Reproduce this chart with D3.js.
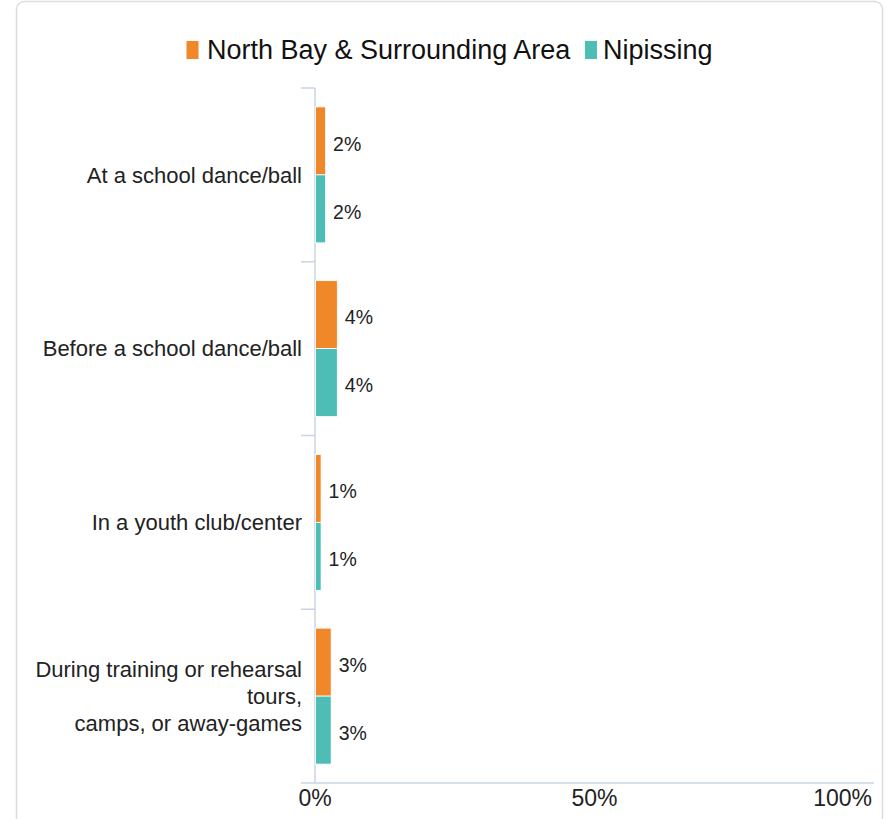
<!DOCTYPE html>
<html><head><meta charset="utf-8">
<script src="https://cdn.jsdelivr.net/npm/d3@7"></script>
<style>body{margin:0;background:#fff;font-family:"Liberation Sans",Arial,sans-serif;}</style>
</head><body>
<svg id="chart" width="889" height="819"></svg>
<script>
const categories = [
  ["At a school dance/ball"],
  ["Before a school dance/ball"],
  ["In a youth club/center"],
  ["During training or rehearsal", "tours,", "camps, or away-games"]
];
const seriesNames = ["North Bay & Surrounding Area", "Nipissing"];
const northBay = [1.8, 3.9, 1.0, 2.8];
const nipissing = [1.8, 3.9, 1.0, 2.8];
const seriesColors = ["#f0882a", "#4dbdb6"];
const xTicks = [0, 50, 100];

(function () {
const svg = d3.select("#chart");
svg.append("rect").attr("x", 16.5).attr("y", 1.5).attr("width", 866).attr("height", 840)
  .attr("rx", 8).attr("fill", "#fff").attr("stroke", "#dcdcdc").attr("stroke-width", 1.5);

const mLeft = 315, mRight = 874, mTop = 88, mBottom = 783;
const x = d3.scaleLinear().domain([0, 100]).range([mLeft, mRight]);
const y = d3.scaleBand().domain(d3.range(categories.length)).range([mTop, mBottom]).paddingInner(0).paddingOuter(0);
const inner = d3.scaleBand().domain([0, 1]).range([0, y.bandwidth()]).paddingInner(0).paddingOuter(0.278);
const data = [northBay, nipissing];
const axisColor = "#c8d5e4";

const ticksY = d3.range(categories.length + 1).map(i => mTop + i * y.bandwidth());
svg.selectAll(".ctick").data(ticksY).enter().append("line")
  .attr("x1", 301).attr("x2", mLeft).attr("y1", d => d).attr("y2", d => d)
  .attr("stroke", axisColor).attr("stroke-width", 1.5);
svg.append("line").attr("x1", mLeft).attr("x2", mLeft).attr("y1", mTop).attr("y2", mBottom)
  .attr("stroke", axisColor).attr("stroke-width", 1.5);
svg.append("line").attr("x1", mLeft).attr("x2", mRight).attr("y1", mBottom).attr("y2", mBottom)
  .attr("stroke", axisColor).attr("stroke-width", 1.5);

data.forEach((vals, s) => {
  svg.selectAll(".bar" + s).data(vals).enter().append("rect")
    .attr("x", x(0) + 0.5)
    .attr("y", (d, i) => y(i) + inner(s))
    .attr("width", d => x(d) - x(0))
    .attr("height", inner.bandwidth())
    .attr("fill", seriesColors[s]).attr("stroke", "#fff").attr("stroke-width", 0.8);
  svg.selectAll(".lbl" + s).data(vals).enter().append("text")
    .attr("x", d => x(d) + 8)
    .attr("y", (d, i) => y(i) + inner(s) + inner.bandwidth() / 2 + 3)
    .attr("dy", "0.35em")
    .attr("font-size", 19.5).attr("fill", "#222")
    .text(d => Math.round(d) + "%");
});

categories.forEach((lines, i) => {
  const cy = y(i) + y.bandwidth() / 2;
  const lh = 27;
  const t = svg.append("text").attr("text-anchor", "end").attr("font-size", 22).attr("fill", "#222");
  lines.forEach((ln, j) => {
    t.append("tspan").attr("x", 302).attr("y", cy + (j - (lines.length - 1) / 2) * lh).attr("dy", "0.35em").text(ln);
  });
});

svg.selectAll(".xt").data(xTicks).enter().append("text")
  .attr("x", d => d === 100 ? mRight - 2 : x(d))
  .attr("y", 806)
  .attr("text-anchor", d => d === 100 ? "end" : "middle")
  .attr("font-size", 23).attr("fill", "#222")
  .text(d => d + "%");

const legend = [{ x: 186.5, tx: 207 }, { x: 585, tx: 603 }];
seriesNames.forEach((n, s) => {
  svg.append("rect").attr("x", legend[s].x).attr("y", 41).attr("width", 12).attr("height", 18).attr("fill", seriesColors[s]);
  svg.append("text").attr("x", legend[s].tx).attr("y", 59).attr("font-size", 27).attr("fill", "#111").text(n);
});
})();
</script>
</body></html>
